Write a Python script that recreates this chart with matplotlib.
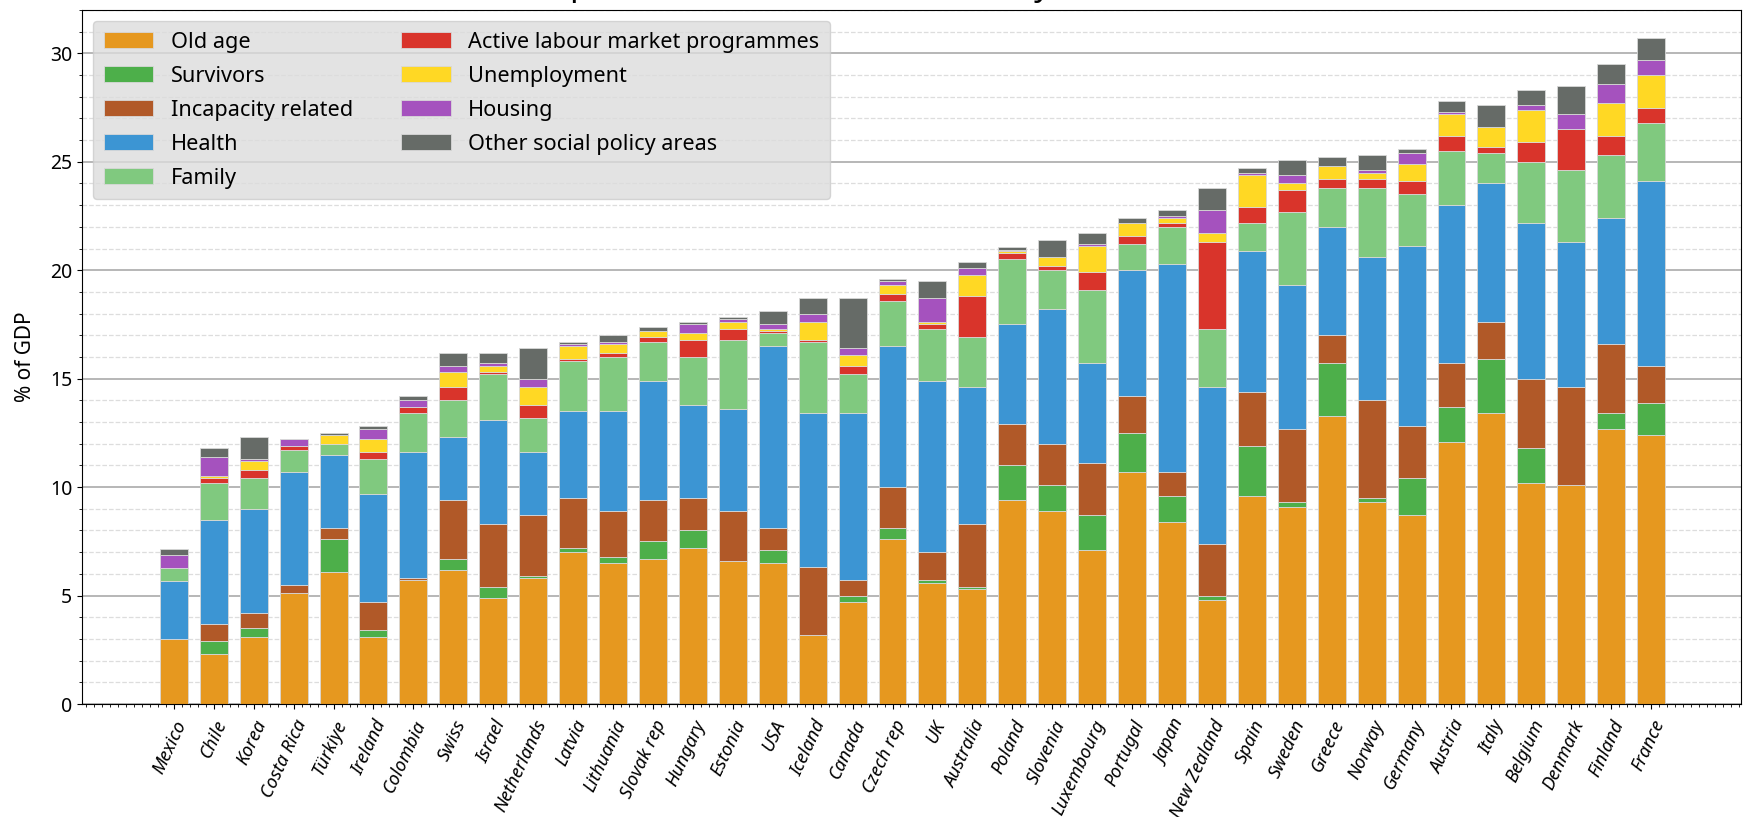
import numpy as np
import matplotlib
matplotlib.use('Agg')
import matplotlib.pyplot as plt
from matplotlib.ticker import MultipleLocator, AutoMinorLocator

plt.rcParams['font.family'] = ['Noto Sans', 'DejaVu Sans']

countries = ['Mexico', 'Chile', 'Korea', 'Costa Rica', 'Türkiye', 'Ireland', 'Colombia',
             'Swiss', 'Israel', 'Netherlands', 'Latvia', 'Lithuania', 'Slovak rep',
             'Hungary', 'Estonia', 'USA', 'Iceland', 'Canada', 'Czech rep', 'UK',
             'Australia', 'Poland', 'Slovenia', 'Luxembourg', 'Portugal', 'Japan',
             'New Zealand', 'Spain', 'Sweden', 'Greece', 'Norway', 'Germany',
             'Austria', 'Italy', 'Belgium', 'Denmark', 'Finland', 'France']

old_age = [3.0, 2.3, 3.1, 5.1, 6.1, 3.1, 5.7, 6.2, 4.9, 5.8, 7.0, 6.5, 6.7, 7.2, 6.6,
           6.5, 3.2, 4.7, 7.6, 5.6, 5.3, 9.4, 8.9, 7.1, 10.7, 8.4, 4.8, 9.6, 9.1, 13.3,
           9.3, 8.7, 12.1, 13.4, 10.2, 10.1, 12.7, 12.4]
survivors = [0.0, 0.6, 0.4, 0.0, 1.5, 0.3, 0.0, 0.5, 0.5, 0.1, 0.2, 0.3, 0.8, 0.8, 0.0,
             0.6, 0.0, 0.3, 0.5, 0.1, 0.1, 1.6, 1.2, 1.6, 1.8, 1.2, 0.2, 2.3, 0.2, 2.4,
             0.2, 1.7, 1.6, 2.5, 1.6, 0.0, 0.7, 1.5]
incapacity = [0.0, 0.8, 0.7, 0.4, 0.5, 1.3, 0.1, 2.7, 2.9, 2.8, 2.3, 2.1, 1.9, 1.5, 2.3,
              1.0, 3.1, 0.7, 1.9, 1.3, 2.9, 1.9, 1.9, 2.4, 1.7, 1.1, 2.4, 2.5, 3.4, 1.3,
              4.5, 2.4, 2.0, 1.7, 3.2, 4.5, 3.2, 1.7]
health = [2.65, 4.8, 4.8, 5.2, 3.4, 5.0, 5.8, 2.9, 4.8, 2.9, 4.0, 4.6, 5.5, 4.3, 4.7,
          8.4, 7.1, 7.7, 6.5, 7.9, 6.3, 4.6, 6.2, 4.6, 5.8, 9.6, 7.2, 6.5, 6.6, 5.0,
          6.6, 8.3, 7.3, 6.4, 7.2, 6.7, 5.8, 8.5]
family = [0.6, 1.7, 1.4, 1.0, 0.5, 1.6, 1.8, 1.7, 2.1, 1.6, 2.3, 2.5, 1.8, 2.2, 3.2,
          0.6, 3.3, 1.8, 2.1, 2.4, 2.3, 3.0, 1.8, 3.4, 1.2, 1.7, 2.7, 1.3, 3.4, 1.8,
          3.2, 2.4, 2.5, 1.4, 2.8, 3.3, 2.9, 2.7]
almp = [0.0, 0.2, 0.4, 0.2, 0.0, 0.3, 0.3, 0.6, 0.1, 0.6, 0.1, 0.2, 0.2, 0.8, 0.5,
        0.1, 0.1, 0.4, 0.3, 0.2, 1.9, 0.3, 0.2, 0.8, 0.4, 0.2, 4.0, 0.7, 1.0, 0.4,
        0.4, 0.6, 0.7, 0.3, 0.9, 1.9, 0.9, 0.7]
unemployment = [0.0, 0.1, 0.4, 0.0, 0.4, 0.6, 0.0, 0.7, 0.3, 0.8, 0.6, 0.4, 0.3, 0.3, 0.3,
                0.1, 0.8, 0.5, 0.4, 0.1, 1.0, 0.1, 0.4, 1.2, 0.6, 0.2, 0.4, 1.5, 0.3, 0.6,
                0.3, 0.8, 1.0, 0.9, 1.5, 0.0, 1.5, 1.5]
housing = [0.6, 0.9, 0.1, 0.3, 0.0, 0.5, 0.3, 0.3, 0.1, 0.4, 0.1, 0.1, 0.0, 0.4, 0.15,
           0.2, 0.4, 0.3, 0.2, 1.1, 0.3, 0.05, 0.0, 0.1, 0.0, 0.1, 1.1, 0.1, 0.4, 0.0,
           0.1, 0.5, 0.1, 0.0, 0.2, 0.7, 0.9, 0.7]
other = [0.3, 0.4, 1.0, 0.0, 0.1, 0.1, 0.2, 0.6, 0.5, 1.4, 0.1, 0.3, 0.2, 0.1, 0.1,
         0.6, 0.7, 2.3, 0.1, 0.8, 0.3, 0.1, 0.8, 0.5, 0.2, 0.3, 1.0, 0.2, 0.7, 0.4,
         0.7, 0.2, 0.5, 1.0, 0.7, 1.3, 0.9, 1.0]

series = [
    ('Old age', old_age, '#E6981F'),
    ('Survivors', survivors, '#4DAF4A'),
    ('Incapacity related', incapacity, '#B15928'),
    ('Health', health, '#3C95D3'),
    ('Family', family, '#80C97F'),
    ('Active labour market programmes', almp, '#D9342B'),
    ('Unemployment', unemployment, '#FFD824'),
    ('Housing', housing, '#A552BE'),
    ('Other social policy areas', other, '#666B67'),
]

fig = plt.figure(figsize=(17.52, 8.17), dpi=100)
ax = fig.add_axes([0.0468, 0.1383, 0.9469, 0.8495])

x = np.arange(len(countries))
bottom = np.zeros(len(countries))
for name, vals, col in series:
    vals = np.array(vals)
    ax.bar(x, vals, 0.7, bottom=bottom, color=col, label=name,
           edgecolor='#d8d8d8', linewidth=0.6)
    bottom += vals

ax.set_xlim(-2.3, 39.25)
ax.set_ylim(0, 32)
ax.set_xticks(x)
ax.set_xticklabels(countries, rotation=65, ha='right', va='top',
                   rotation_mode='anchor', style='italic', fontsize=13.2)
ax.xaxis.set_minor_locator(AutoMinorLocator())
ax.tick_params(axis='x', which='major', pad=6)
ax.yaxis.set_major_locator(MultipleLocator(5))
ax.yaxis.set_minor_locator(MultipleLocator(1))
ax.tick_params(axis='y', labelsize=14)
ax.set_axisbelow(True)
ax.grid(which='major', axis='y', color='#aaaaaa', linewidth=1.2)
ax.grid(which='minor', axis='y', color='#dddddd', linestyle='--', linewidth=0.9)
ax.set_ylabel('% of GDP', fontsize=15, labelpad=10)

ax.set_title('Social expenditure in OECD countries, by branch (% GDP, 2019)',
             fontsize=23, pad=11)

leg = ax.legend(loc='upper left', ncol=2, fontsize=15.6, facecolor='#dcdcdc',
                edgecolor='#cccccc', framealpha=0.8, handlelength=2.3,
                handletextpad=0.8, columnspacing=2.2, borderpad=0.5,
                labelspacing=0.6)

fig.savefig('out.png', dpi=100)
